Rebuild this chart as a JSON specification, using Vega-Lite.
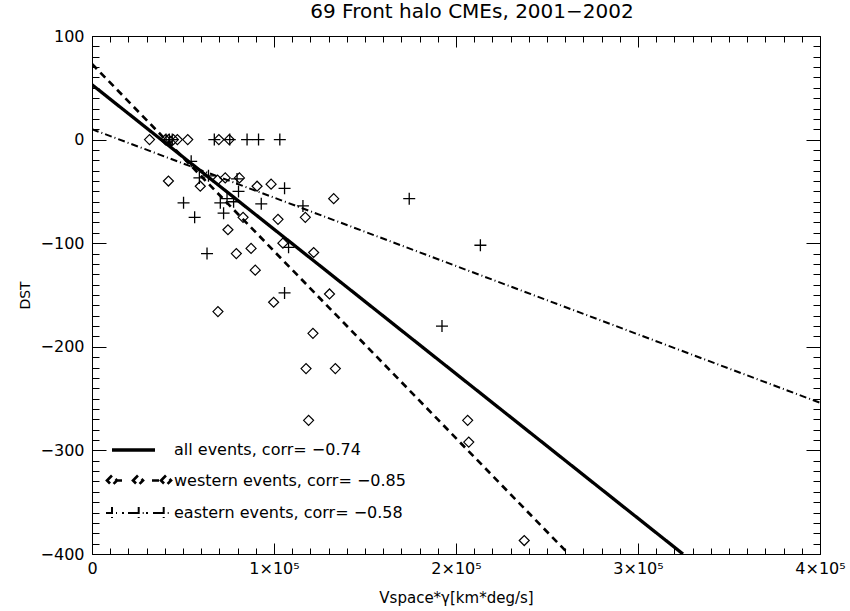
{
  "$schema": "https://vega.github.io/schema/vega-lite/v6.json",
  "width": 728,
  "height": 518,
  "autosize": "none",
  "padding": {"left": 92, "top": 36, "right": 30, "bottom": 57},
  "background": "white",
  "title": {"text": "69 Front halo CMEs, 2001−2002", "fontSize": 20, "font": "DejaVu Sans", "fontWeight": "normal", "anchor": "middle", "dx": 16, "offset": 6, "color": "black"},
  "config": {
    "view": {"stroke": null},
    "font": "DejaVu Sans",
    "axis": {"domainColor": "black", "labelColor": "black", "titleColor": "black", "grid": false, "labelFont": "DejaVu Sans", "titleFont": "DejaVu Sans", "labelFontSize": 16, "titleFontSize": 15, "titleFontWeight": "normal", "domainWidth": 1, "labelOverlap": false, "labelFlush": false}
  },
  "datasets": {
    "fits": [
      {"group": "all", "x": 0, "y": 53}, {"group": "all", "x": 324700, "y": -400},
      {"group": "western", "x": 0, "y": 73}, {"group": "western", "x": 261900, "y": -400},
      {"group": "eastern", "x": 0, "y": 10}, {"group": "eastern", "x": 400000, "y": -254}
    ],
    "western": [
      {"x": 31600, "y": 0}, {"x": 40300, "y": 0}, {"x": 42000, "y": 0}, {"x": 44700, "y": 0}, {"x": 46900, "y": 0}, {"x": 52600, "y": 0}, {"x": 69700, "y": 0}, {"x": 75400, "y": 0},
      {"x": 42000, "y": -40}, {"x": 59500, "y": -45}, {"x": 69000, "y": -39}, {"x": 73200, "y": -37}, {"x": 81000, "y": -37}, {"x": 90700, "y": -45}, {"x": 98400, "y": -43}, {"x": 132800, "y": -57},
      {"x": 83000, "y": -75}, {"x": 102200, "y": -77}, {"x": 117200, "y": -75}, {"x": 74700, "y": -87}, {"x": 79300, "y": -110}, {"x": 87400, "y": -105}, {"x": 104900, "y": -100}, {"x": 121800, "y": -109},
      {"x": 89700, "y": -126}, {"x": 99800, "y": -157}, {"x": 130500, "y": -149}, {"x": 69200, "y": -166}, {"x": 121400, "y": -187}, {"x": 117600, "y": -221}, {"x": 133700, "y": -221}, {"x": 119000, "y": -271},
      {"x": 206400, "y": -271}, {"x": 207000, "y": -292}, {"x": 237500, "y": -387}
    ],
    "eastern": [
      {"x": 40700, "y": 0}, {"x": 42500, "y": 0}, {"x": 44100, "y": 0}, {"x": 67200, "y": 0}, {"x": 75700, "y": 0}, {"x": 85200, "y": 0}, {"x": 91500, "y": 0}, {"x": 103200, "y": 0},
      {"x": 54500, "y": -21}, {"x": 59000, "y": -37}, {"x": 64000, "y": -35}, {"x": 79700, "y": -38}, {"x": 80500, "y": -50}, {"x": 105800, "y": -47}, {"x": 50300, "y": -61}, {"x": 70500, "y": -61},
      {"x": 74200, "y": -57}, {"x": 77800, "y": -60}, {"x": 93000, "y": -62}, {"x": 115900, "y": -64}, {"x": 56400, "y": -75}, {"x": 72300, "y": -71}, {"x": 63200, "y": -110}, {"x": 108000, "y": -104},
      {"x": 105800, "y": -148}, {"x": 174300, "y": -57}, {"x": 213400, "y": -102}, {"x": 192300, "y": -180}
    ]
  },
  "resolve": {"axis": {"x": "independent", "y": "independent"}},
  "layer": [
    {
      "data": {"name": "fits"},
      "mark": {"type": "line", "color": "black", "clip": true},
      "encoding": {
        "x": {"field": "x", "type": "quantitative", "scale": {"domain": [0, 400000], "nice": false, "zero": false},
          "axis": {"orient": "bottom", "values": [0, 100000, 200000, 300000, 400000], "ticks": false,
            "labelExpr": "datum.value === 0 ? '0' : (datum.value / 100000) + '×10⁵'",
            "labelPadding": 6, "title": "Vspace*γ[km*deg/s]", "titlePadding": 14}},
        "y": {"field": "y", "type": "quantitative", "scale": {"domain": [-400, 100], "nice": false, "zero": false},
          "axis": {"orient": "left", "values": [-400, -300, -200, -100, 0, 100], "ticks": false,
            "labelPadding": 8, "title": "DST", "titleFontSize": 14, "titlePadding": 8}},
        "strokeDash": {"field": "group", "type": "nominal",
          "scale": {"domain": ["all", "western", "eastern"], "range": [[1, 0], [7, 5], [7, 3, 1, 3]]},
          "legend": {"orient": "bottom-left", "title": null, "offset": 31, "padding": 0, "symbolSize": 400, "symbolStrokeColor": "black",
            "labelFontSize": 16, "labelFont": "DejaVu Sans", "labelColor": "black", "labelOffset": 27, "rowPadding": 11, "labelLimit": 0,
            "labelExpr": "datum.value === 'all' ? 'all events, corr= −0.74' : datum.value === 'western' ? 'western events, corr= −0.85' : 'eastern events, corr= −0.58'",
            "encode": {"symbols": {"update": {
              "shape": {"signal": "datum.value === 'all' ? 'M-2.3,0L2,0' : datum.value === 'western' ? 'M-2.8,0L-2.3,-0.5L-1.8,0L-2.3,0.5ZM-1.8,0L-1.3,0M-0.2,0L0.3,-0.5L0.8,0L0.3,0.5ZM1.7,0L2.6,0M2.6,0L3.1,-0.5L3.6,0L3.1,0.5Z' : 'M-2.9,0L-1.7,0M-2.3,-0.6L-2.3,0.6M-1.3,0L-1.1,0M-0.7,0L-0.23,0M-0.23,0L0.97,0M0.37,-0.6L0.37,0.6M1.1,0L1.3,0M1.8,0L2.27,0M2.27,0L3.47,0M2.87,-0.6L2.87,0.6'"},
              "strokeDash": {"value": [1, 0]},
              "strokeWidth": {"signal": "datum.value === 'all' ? 2.5 : 1.2"},
              "fill": {"value": "transparent"}
            }}}}},
        "strokeWidth": {"field": "group", "type": "nominal", "scale": {"domain": ["all", "western", "eastern"], "range": [3.3, 2, 1.5]}, "legend": null}
      }
    },
    {
      "data": {"name": "western"},
      "mark": {"type": "point", "shape": "diamond", "filled": false, "color": "black", "size": 100, "strokeWidth": 1.2, "opacity": 1},
      "encoding": {
        "x": {"field": "x", "type": "quantitative", "scale": {"domain": [0, 400000], "nice": false, "zero": false},
          "axis": {"orient": "bottom", "offset": -518, "values": [0,10000,20000,30000,40000,50000,60000,70000,80000,90000,100000,110000,120000,130000,140000,150000,160000,170000,180000,190000,200000,210000,220000,230000,240000,250000,260000,270000,280000,290000,300000,310000,320000,330000,340000,350000,360000,370000,380000,390000,400000],
            "ticks": true, "tickColor": "black", "tickWidth": 1, "tickOpacity": 1,
            "tickSize": {"condition": {"test": "datum.value % 100000 === 0", "value": 11}, "value": 6}, "labels": false, "title": null}},
        "y": {"field": "y", "type": "quantitative", "scale": {"domain": [-400, 100], "nice": false, "zero": false},
          "axis": {"orient": "left", "offset": -728, "values": [-400,-390,-380,-370,-360,-350,-340,-330,-320,-310,-300,-290,-280,-270,-260,-250,-240,-230,-220,-210,-200,-190,-180,-170,-160,-150,-140,-130,-120,-110,-100,-90,-80,-70,-60,-50,-40,-30,-20,-10,0,10,20,30,40,50,60,70,80,90,100],
            "ticks": true, "tickColor": "black", "tickWidth": 1, "tickOpacity": 1,
            "tickSize": {"condition": {"test": "datum.value % 100 === 0", "value": 14}, "value": 7}, "labels": false, "title": null}}
      }
    },
    {
      "data": {"name": "eastern"},
      "mark": {"type": "point", "shape": "M-1,0L1,0M0,-1L0,1", "filled": false, "color": "black", "size": 144, "strokeWidth": 1.3, "opacity": 1},
      "encoding": {
        "x": {"field": "x", "type": "quantitative", "scale": {"domain": [0, 400000], "nice": false, "zero": false},
          "axis": {"orient": "top", "offset": -518, "values": [0,10000,20000,30000,40000,50000,60000,70000,80000,90000,100000,110000,120000,130000,140000,150000,160000,170000,180000,190000,200000,210000,220000,230000,240000,250000,260000,270000,280000,290000,300000,310000,320000,330000,340000,350000,360000,370000,380000,390000,400000],
            "ticks": true, "tickColor": "black", "tickWidth": 1, "tickOpacity": 1,
            "tickSize": {"condition": {"test": "datum.value % 100000 === 0", "value": 11}, "value": 6}, "labels": false, "title": null}},
        "y": {"field": "y", "type": "quantitative", "scale": {"domain": [-400, 100], "nice": false, "zero": false},
          "axis": {"orient": "right", "offset": -728, "values": [-400,-390,-380,-370,-360,-350,-340,-330,-320,-310,-300,-290,-280,-270,-260,-250,-240,-230,-220,-210,-200,-190,-180,-170,-160,-150,-140,-130,-120,-110,-100,-90,-80,-70,-60,-50,-40,-30,-20,-10,0,10,20,30,40,50,60,70,80,90,100],
            "ticks": true, "tickColor": "black", "tickWidth": 1, "tickOpacity": 1,
            "tickSize": {"condition": {"test": "datum.value % 100 === 0", "value": 14}, "value": 7}, "labels": false, "title": null}}
      }
    }
  ]
}
